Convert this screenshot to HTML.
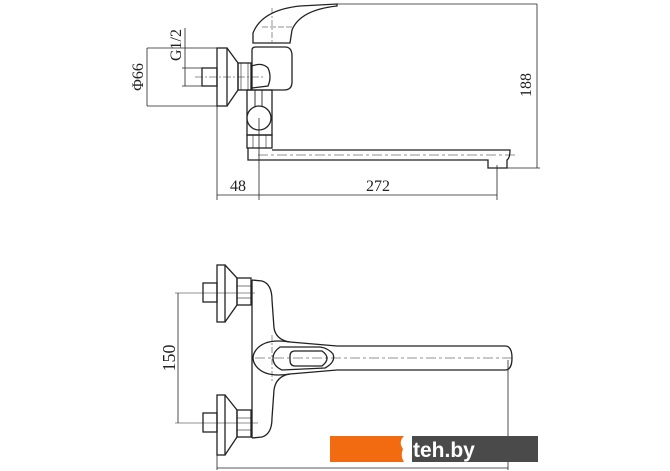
<!DOCTYPE html>
<html><head><meta charset="utf-8"><style>html,body{margin:0;padding:0;background:#fff}svg{display:block}</style></head><body>
<svg width="670" height="471" viewBox="0 0 670 471" xmlns="http://www.w3.org/2000/svg" font-family="Liberation Serif, serif">
<g fill="none" stroke="#222" stroke-width="1.3">
<line x1="147" y1="48" x2="217" y2="48" stroke-width="0.8"/>
<line x1="147" y1="106" x2="217" y2="106" stroke-width="0.8"/>
<line x1="147" y1="48" x2="147" y2="106" stroke-width="0.8"/>
<line x1="185" y1="28" x2="185" y2="86" stroke-width="0.8"/>
<line x1="182" y1="68" x2="202" y2="68" stroke-width="0.8"/>
<line x1="182" y1="86" x2="202" y2="86" stroke-width="0.8"/>
<rect x="202" y="68" width="15" height="18"/>
<rect x="217" y="48" width="10" height="58"/>
<path d="M227 48 L238 63 L238 90 L227 106"/>
<rect x="238" y="63" width="13" height="27"/>
<line x1="241" y1="63" x2="241" y2="90" stroke-width="0.6"/>
<line x1="248" y1="63" x2="248" y2="90" stroke-width="0.6"/>
<line x1="195" y1="77" x2="265" y2="77" stroke-width="0.5" stroke-dasharray="8 2 2 2"/>
<path d="M252 90 L252 50 Q252 47 256 47 L285 47 Q292 47 292 56 L292 82 Q292 90 284 90 Z"/>
<path d="M252 66 Q262 62 268 68 Q272 77 268 86 L252 88"/>
<path d="M253 43 L253 33 Q262 10 300 6 L337 4 L337 6 Q300 10 292 30 L290 43 Z"/>
<line x1="337" y1="4" x2="537" y2="4" stroke-width="0.8"/>
<line x1="272" y1="8" x2="272" y2="44" stroke-width="0.5" stroke-dasharray="6 2 2 2"/>
<line x1="262" y1="27" x2="292" y2="27" stroke-width="0.5" stroke-dasharray="6 2"/>
<rect x="247" y="90" width="25" height="45"/>
<rect x="255" y="90" width="7" height="18" stroke-width="0.9"/>
<circle cx="259" cy="118" r="12" fill="#fff"/>
<rect x="247" y="135" width="25" height="13"/>
<line x1="253" y1="135" x2="253" y2="148" stroke-width="0.6"/>
<line x1="266" y1="135" x2="266" y2="148" stroke-width="0.6"/>
<path d="M248 148 L248 160 L488 160 L488 168 L507 168 L507 160 Q510 158 510 150 L272 150"/>
<line x1="258" y1="155" x2="515" y2="155" stroke-width="0.5" stroke-dasharray="10 3 3 3"/>
<line x1="537" y1="4" x2="537" y2="168" stroke-width="0.8"/>
<line x1="507" y1="168" x2="540" y2="168" stroke-width="0.8"/>
<line x1="217" y1="106" x2="217" y2="200" stroke-width="0.8"/>
<line x1="259" y1="118" x2="259" y2="200" stroke-width="0.8"/>
<line x1="497" y1="165" x2="497" y2="200" stroke-width="0.8"/>
<line x1="217" y1="195" x2="497" y2="195" stroke-width="0.8"/>

<line x1="178" y1="293" x2="178" y2="423" stroke-width="0.8"/>
<line x1="175" y1="293" x2="255" y2="293" stroke-width="0.6"/>
<line x1="175" y1="423" x2="258" y2="423" stroke-width="0.6"/>
<rect x="203" y="283" width="14" height="19"/>
<rect x="217" y="265" width="8" height="57"/>
<path d="M225 265 L237 278 L237 305 L225 322"/>
<rect x="237" y="278" width="14" height="27"/>
<line x1="237" y1="286" x2="251" y2="286" stroke-width="0.6"/>
<line x1="237" y1="298" x2="251" y2="298" stroke-width="0.6"/>
<rect x="203" y="413" width="14" height="19"/>
<rect x="217" y="395" width="8" height="60"/>
<path d="M225 395 L237 410 L237 437 L225 455"/>
<rect x="237" y="410" width="14" height="27"/>
<line x1="237" y1="418" x2="251" y2="418" stroke-width="0.6"/>
<line x1="237" y1="430" x2="251" y2="430" stroke-width="0.6"/>
<line x1="252" y1="280" x2="252" y2="438"/>
<path d="M252 280 L262 281 Q272 284 272 300 L274 328 Q276 340 290 342"/>
<path d="M252 438 L262 437 Q272 434 272 418 L274 390 Q276 376 290 374"/>
<path d="M290 342 Q265 338 256 350 Q250 358 256 366 Q265 378 290 374 L337 370"/>
<path d="M290 342 L337 346"/>
<path d="M337 346 L505 346 Q512 346 512 358 Q512 370 505 370 L337 370"/>
<path d="M280 347 Q273 352 273 358 Q273 366 282 370 L325 368 Q336 362 333 354 Q328 348 320 347 Z"/>
<path d="M295 351 L322 351 Q332 358 322 366 L295 366 Q290 366 290 360 L290 356 Q290 351 295 351 Z"/>
<line x1="255" y1="358" x2="515" y2="358" stroke-width="0.5" stroke-dasharray="10 3 3 3"/>
<line x1="272" y1="335" x2="272" y2="382" stroke-width="0.5" stroke-dasharray="6 2 2 2"/>
<line x1="508" y1="360" x2="508" y2="470" stroke-width="0.8"/>
<line x1="217" y1="455" x2="217" y2="470" stroke-width="0.8"/>
<line x1="217" y1="468" x2="508" y2="468" stroke-width="0.8"/>
</g>
<g fill="#222" font-size="16">
<text x="238" y="191" text-anchor="middle">48</text>
<text x="378" y="191" text-anchor="middle">272</text>
<text transform="translate(531,85) rotate(-90)" text-anchor="middle">188</text>
<text transform="translate(143,77) rotate(-90)" text-anchor="middle">Φ66</text>
<text transform="translate(181,45) rotate(-90)" text-anchor="middle">G1/2</text>
<text transform="translate(175,358) rotate(-90)" text-anchor="middle" font-size="18">150</text>
</g>
<rect x="330" y="436" width="74" height="26" fill="#f26b10"/>
<rect x="404" y="436" width="134" height="26" fill="#4a4a4a"/>
<path d="M404 436 Q398 442 403 449 Q400 456 404 462 L412 462 L412 436 Z" fill="#fff"/>
<text x="413" y="457" font-family="Liberation Sans, sans-serif" font-size="21" font-weight="bold" fill="#fff">teh.by</text>
</svg>
</body></html>
